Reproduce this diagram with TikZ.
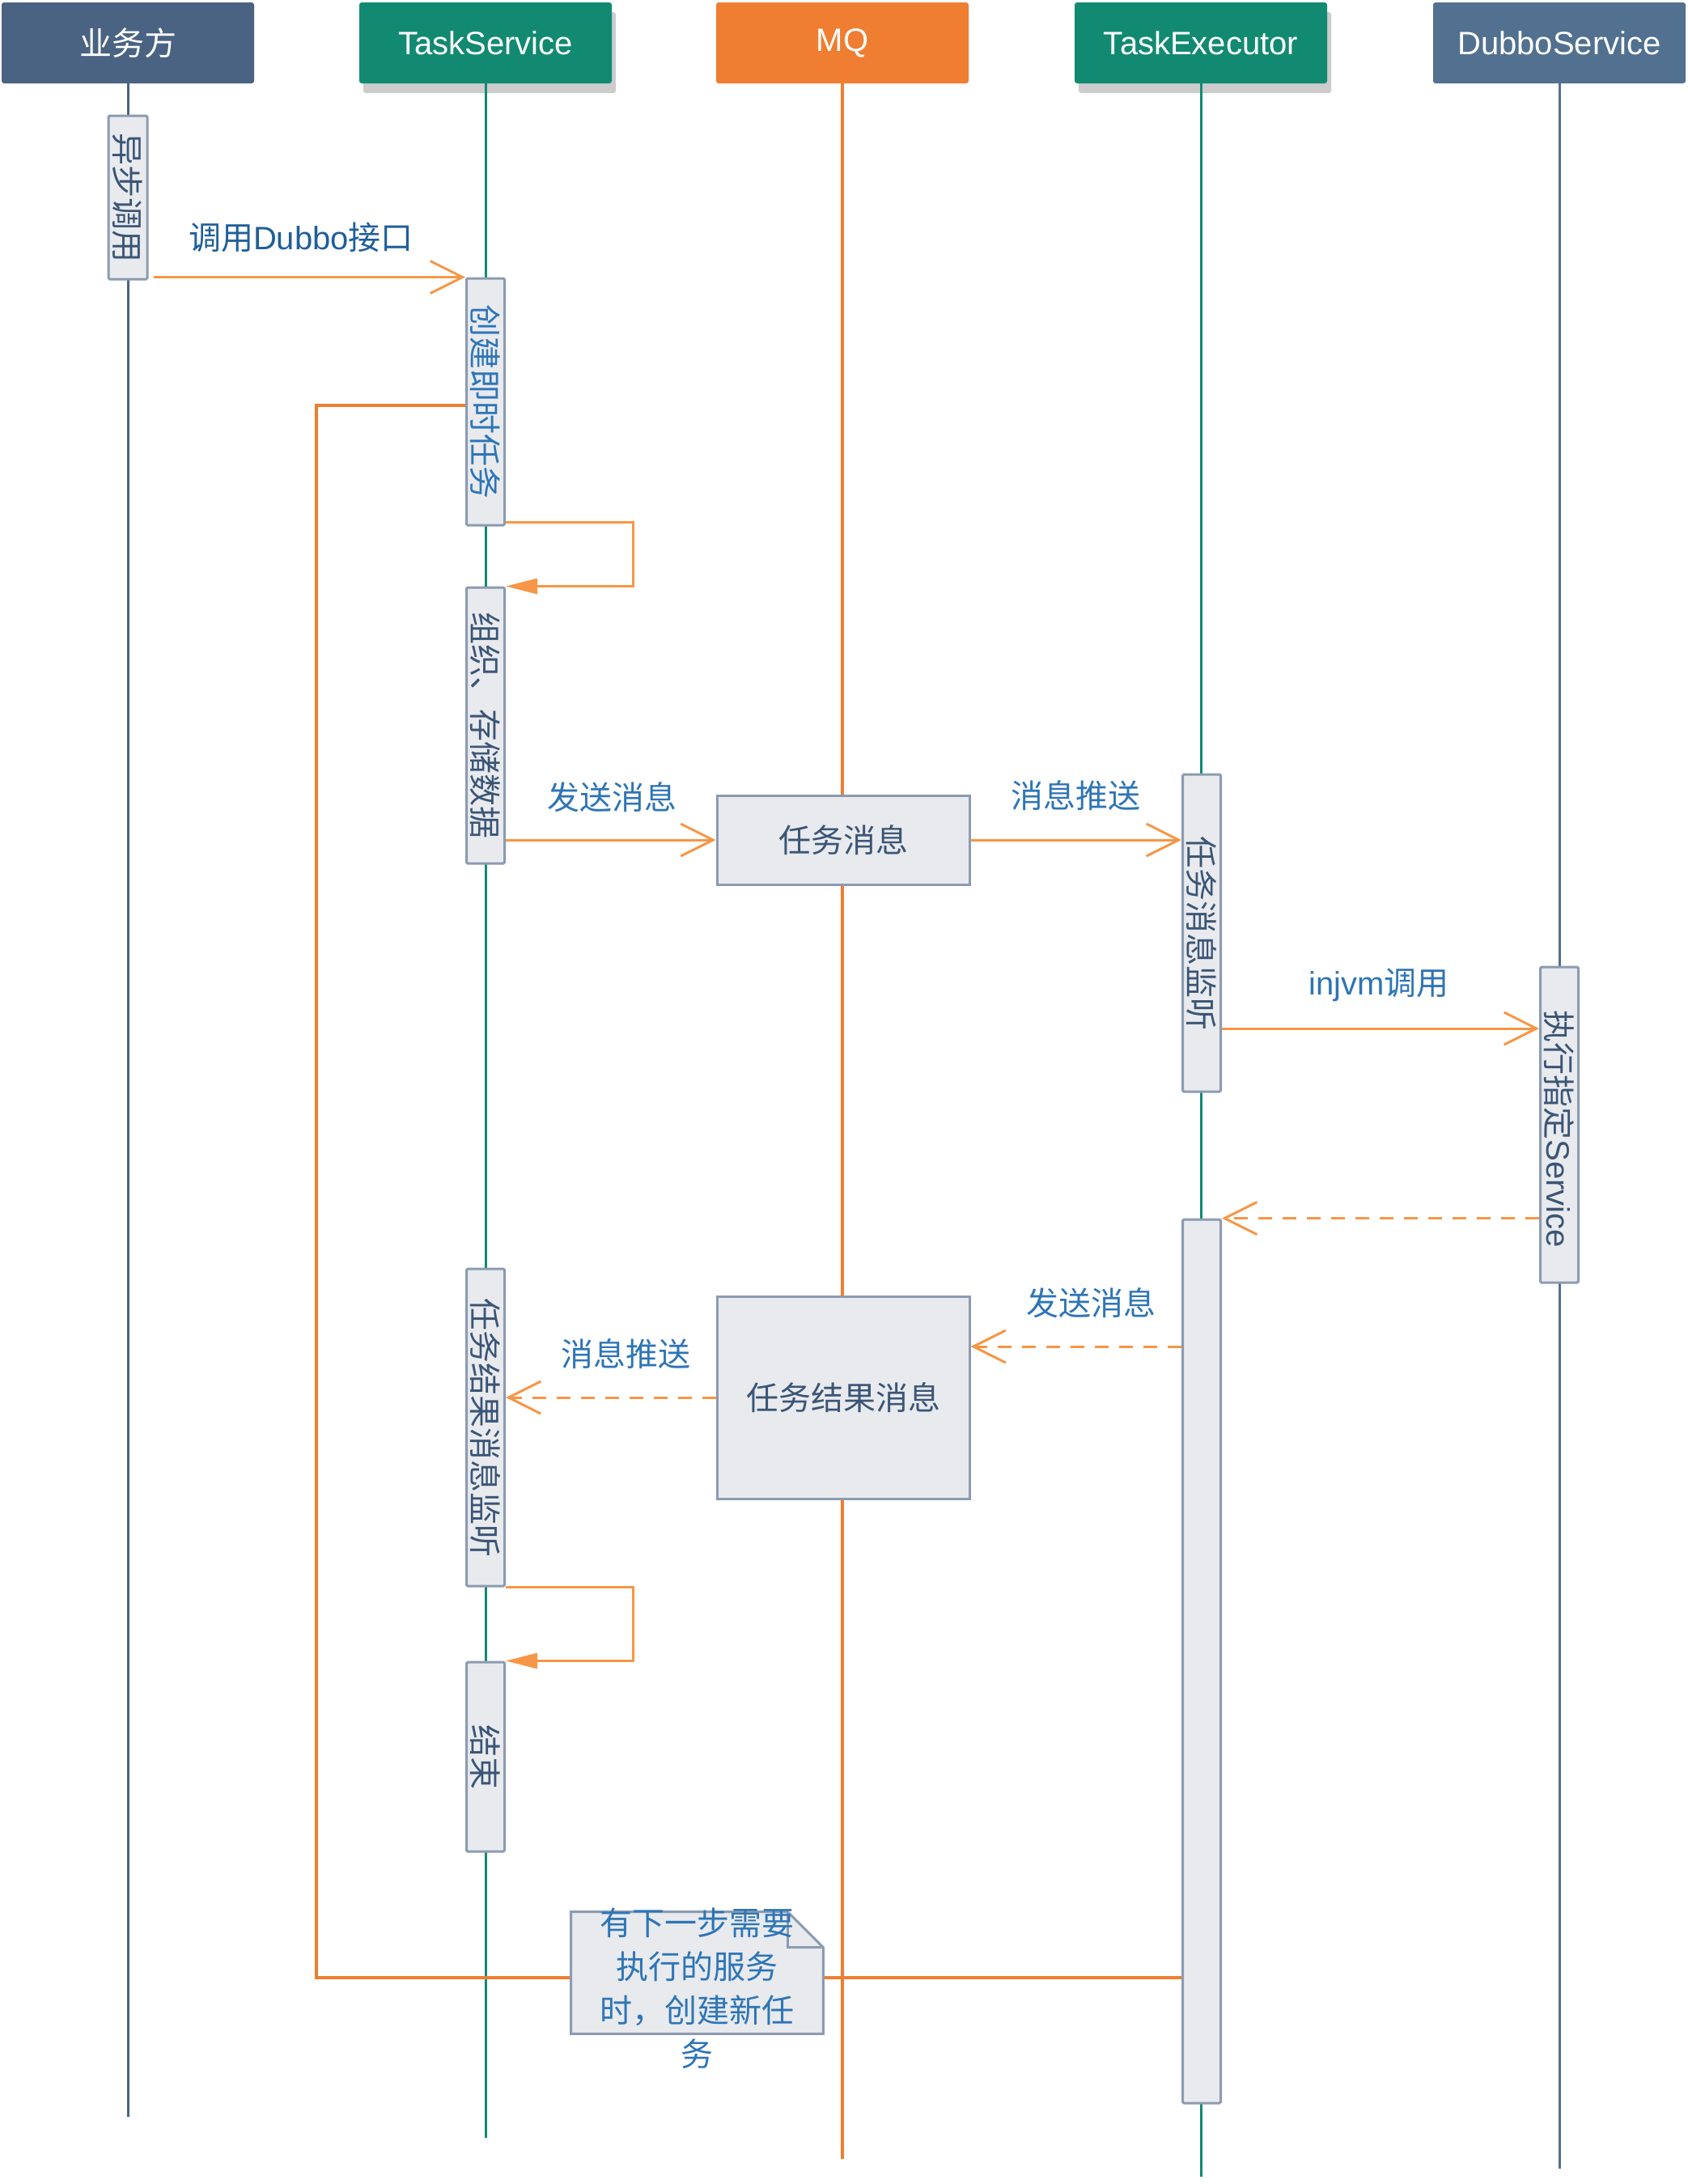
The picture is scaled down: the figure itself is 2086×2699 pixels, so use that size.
\documentclass[tikz,border=0pt]{standalone}
\usepackage{fontspec}
\setmainfont{Liberation Sans}
\newfontfamily\cjk{Noto Sans CJK SC}
\usetikzlibrary{arrows.meta,shadows,calc}
\definecolor{hdrblue}{HTML}{4A6382}
\definecolor{hdrbluetwo}{HTML}{52708F}
\definecolor{tealc}{HTML}{128A72}
\definecolor{mqor}{HTML}{EF7E32}
\definecolor{arrowor}{HTML}{F79646}
\definecolor{actfill}{HTML}{E8EAEE}
\definecolor{actline}{HTML}{8C9BB1}
\definecolor{lblue}{HTML}{2E75B6}
\definecolor{dblue}{HTML}{1F5F9A}
\definecolor{navy}{HTML}{3B5575}
\begin{document}
\begin{tikzpicture}[x=0.5pt,y=-0.5pt,
  hdr/.style={minimum width=156pt, minimum height=50pt, inner sep=0pt, text=white,
    font=\fontsize{20pt}{24pt}\selectfont, rounded corners=1.5pt},
  hshadow/.style={drop shadow={shadow xshift=2.5pt, shadow yshift=-6pt, opacity=0.2, fill=black}},
  life/.style={line width=1.5pt},
  actbox/.style={draw=actline, fill=actfill, line width=1.5pt, minimum width=23.5pt, inner sep=0pt, rounded corners=0.8pt},
  vtext/.style={rotate=-90, text=navy, inner sep=0pt, font=\cjk\fontsize{20pt}{24pt}\selectfont},
  qbox/.style={draw=actline, fill=actfill, line width=1.5pt, minimum width=156pt, inner sep=0pt,
    text=navy, font=\cjk\fontsize{20pt}{24pt}\selectfont},
  lbl/.style={text=lblue, inner sep=0pt, font=\cjk\fontsize{20pt}{24pt}\selectfont},
  msg/.style={draw=arrowor, line width=1.5pt, -{Straight Barb[length=20pt,width=20pt]}},
  ret/.style={msg, dash pattern=on 8.5pt off 6.5pt},
  selfmsg/.style={draw=arrowor, line width=1.5pt, -{Triangle[length=19.5pt,width=9.5pt]}},
  bigloop/.style={draw=mqor, line width=2pt},
  notebox/.style={draw=actline, fill=actfill, line width=1.5pt}
]
\useasboundingbox (0,0) rectangle (2086,2699);

% headers
\node[hdr, fill=hdrblue] (h1) at (158,53) {\cjk 业务方};
\node[hdr, fill=tealc, hshadow] (h2) at (600,53) {TaskService};
\node[hdr, fill=mqor] (h3) at (1041,53) {MQ};
\node[hdr, fill=tealc, hshadow] (h4) at (1484,53) {TaskExecutor};
\node[hdr, fill=hdrbluetwo] (h5) at (1927,53) {DubboService};

% lifeline ends
\coordinate (l1) at (158,2616);
\coordinate (l2) at (600,2642);
\coordinate (l3) at (1041,2668);
\coordinate (l4) at (1484,2690);
\coordinate (l5) at (1927,2680);
\draw[life, draw=hdrblue] (h1.south) -- (l1);
\draw[life, draw=tealc] (h2.south) -- (l2);
\draw[life, draw=mqor, line width=1.75pt] (h3.south) -- (l3);
\draw[life, draw=tealc] (h4.south) -- (l4);
\draw[life, draw=hdrbluetwo] (h5.south) -- (l5);

% big loop corner points
\coordinate (bl1) at (391,2444);
\coordinate (bl2) at (391,501);

% MQ boxes
\node[qbox, minimum height=55pt] (q1) at (1042,1038) {任务消息};
\node[qbox, minimum height=125pt] (q2) at (1042,1727) {任务结果消息};

% activation boxes
\node[actbox, minimum width=24pt, minimum height=101pt] (a0) at (158,244) {};
\node[actbox, minimum height=152.5pt] (c1) at (600,496.5) {};
\node[actbox, minimum height=170.5pt] (c2) at (600,896.5) {};
\node[actbox, minimum height=196pt] (e1) at (1485,1153) {};
\node[actbox, minimum height=195pt] (d1) at (1927,1390) {};
\node[actbox, minimum height=546pt] (e2) at (1485,2053) {};
\node[actbox, minimum height=196pt] (c3) at (600,1764) {};
\node[actbox, minimum height=117pt] (c4) at (600,2171) {};

\draw[bigloop] (e2.west |- bl1) -- (bl1) -- (bl2) -- (c1.west |- bl2);

% texts in activation boxes
\node[vtext] (a0t) at (a0) {异步调用};
\node[vtext, text=lblue] (c1t) at (c1) {创建即时任务};
\node[vtext] (c2t) at (c2) {组织、存储数据};
\node[vtext] (e1t) at (e1) {任务消息监听};
\node[vtext] (d1t) at (1927,1395) {执行指定{\rmfamily Service}};
\node[vtext] (c3t) at (c3) {任务结果消息监听};
\node[vtext] (c4t) at (c4) {结束};

% messages
\coordinate (m5) at (0,1271);
\coordinate (m7) at (0,1664);
\draw[msg] ($(a0.east |- c1.north west)+(6,0)$) -- (c1.north west);
\node[lbl, text=dblue] (l1t) at (372,293) {调用{\rmfamily Dubbo}接口};
\draw[selfmsg] ($(c1.south east)+(0,-5)$) -- ++(157,0) |- (c2.north east);
\draw[msg] (c2.east |- q1.west) -- (q1.west);
\node[lbl] (l2t) at (756,985) {发送消息};
\draw[msg] (q1.east) -- (e1.west |- q1.east);
\node[lbl] (l3t) at (1329,983) {消息推送};
\draw[msg] (e1.east |- m5) -- (d1.west |- m5);
\node[lbl] (l4t) at (1704,1217) {{\rmfamily injvm}调用};
\draw[ret] (d1.west |- e2.north east) -- (e2.north east);
\draw[ret] (e2.west |- m7) -- (q2.east |- m7);
\node[lbl] (l5t) at (1348,1610) {发送消息};
\draw[ret] (q2.west) -- (c3.east |- q2.west);
\node[lbl] (l6t) at (773,1673) {消息推送};
\draw[selfmsg] (c3.south east) -- ++(157,0) |- (c4.north east);

% note
\node[minimum width=155.5pt, minimum height=75pt, inner sep=0pt] (note) at (861.5,2438) {};
\draw[notebox] (note.north west) -- ($(note.north east)+(-44,0)$) -- ($(note.north east)+(0,44)$) -- (note.south east) -- (note.south west) -- cycle;
\draw[draw=actline, line width=1.5pt] ($(note.north east)+(-44,0)$) -- ($(note.north east)+(-44,44)$) -- ($(note.north east)+(0,44)$);
\node[align=center, text=lblue, inner sep=0pt, font=\cjk\fontsize{20pt}{27pt}\selectfont] (notetext) at (861,2457) {有下一步需要\\执行的服务\\时，创建新任\\务};
\end{tikzpicture}
\end{document}
